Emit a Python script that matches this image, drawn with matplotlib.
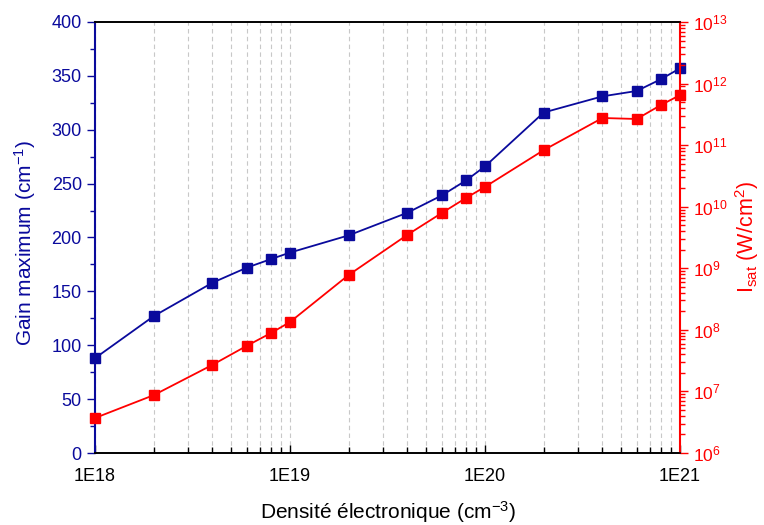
import matplotlib
matplotlib.use("Agg")
import matplotlib.pyplot as plt
from matplotlib.ticker import LogLocator, NullFormatter, FixedLocator, MultipleLocator

plt.rcParams['font.family'] = ['Liberation Sans', 'DejaVu Sans']
plt.rcParams['mathtext.fontset'] = 'custom'
plt.rcParams['mathtext.rm'] = 'Liberation Sans'
plt.rcParams['mathtext.it'] = 'Liberation Sans:italic'

density = [1e18, 2e18, 4e18, 6e18, 8e18, 1e19, 2e19, 4e19, 6e19, 8e19,
           1e20, 2e20, 4e20, 6e20, 8e20, 1e21]
gain = [88, 127, 158, 172, 180, 186, 202, 223, 239, 253,
        266, 316, 331, 336, 347, 357]
isat = [3.7e6, 8.7e6, 2.7e7, 5.5e7, 8.9e7, 1.34e8, 7.8e8, 3.5e9, 7.9e9, 1.39e10,
        2.1e10, 8.3e10, 2.76e11, 2.66e11, 4.5e11, 6.5e11]
xticks = [1e18, 1e19, 1e20, 1e21]
xticklabels = ['1E18', '1E19', '1E20', '1E21']

blue = '#0A0A9C'
red = '#FF0000'

fig = plt.figure(figsize=(7.64, 5.25), dpi=100)
ax = fig.add_axes([95/764, 1-453/525, (680-95)/764, (453-22)/525])
ax2 = ax.twinx()

ax.set_xscale('log')
ax.set_xlim(1e18, 1e21)
ax.set_ylim(0, 400)
ax2.set_yscale('log')
ax2.set_ylim(1e6, 1e13)

ax.xaxis.set_major_locator(FixedLocator(xticks))
ax.set_xticklabels(xticklabels)
ax.xaxis.set_minor_locator(LogLocator(base=10, subs=range(2, 10)))
ax.xaxis.set_minor_formatter(NullFormatter())
ax.grid(True, which='both', axis='x', color='#c8c8c8', linestyle=(0, (4, 3)), linewidth=0.8)
ax.set_axisbelow(True)

ax.plot(density, gain, color=blue, marker='s', markersize=6.5, linewidth=1.3, zorder=3, clip_on=False)
ax2.plot(density, isat, color=red, marker='s', markersize=6.5, linewidth=1.3, zorder=3, clip_on=False)

ax.yaxis.set_major_locator(MultipleLocator(50))
ax.yaxis.set_minor_locator(MultipleLocator(25))
ax2.yaxis.set_major_locator(LogLocator(base=10, numticks=20))
ax2.yaxis.set_minor_locator(LogLocator(base=10, subs=range(2, 10), numticks=100))
ax2.yaxis.set_minor_formatter(NullFormatter())

ax.tick_params(axis='x', which='major', direction='in', length=6, width=1, labelsize=13, colors='black', pad=11)
ax.tick_params(axis='x', which='minor', direction='in', length=4, width=1)
ax.tick_params(axis='y', which='major', direction='out', length=6, width=1, colors=blue, labelsize=13)
ax.tick_params(axis='y', which='minor', direction='out', length=3.5, width=1, colors=blue)
ax2.tick_params(axis='y', which='major', direction='out', length=6, width=1, colors=red, labelsize=12.5)
ax2.tick_params(axis='y', which='minor', direction='out', length=3.5, width=1, colors=red)

for a in (ax, ax2):
    a.spines['top'].set_color('black')
    a.spines['bottom'].set_color('black')
    a.spines['top'].set_linewidth(1.2)
    a.spines['bottom'].set_linewidth(1.2)
ax.spines['left'].set_color(blue)
ax.spines['left'].set_linewidth(1.5)
ax2.spines['left'].set_visible(False)
ax.spines['right'].set_visible(False)
ax2.spines['right'].set_color(red)
ax2.spines['right'].set_linewidth(1.5)

ax.set_xlabel('Densité électronique (cm$^{-3}$)', fontsize=15)
ax.xaxis.set_label_coords(0.5, -0.138)
ax.xaxis.label.set_va('center')
ax.set_ylabel('Gain maximum (cm$^{-1}$)', fontsize=15, color=blue)
ax.yaxis.label.set_va('center')
ax.yaxis.set_label_coords(-0.12, 0.487)
ax2.set_ylabel(r'I$_{\mathrm{sat}}$ (W/cm$^{2}$)', fontsize=15.5, color=red)
ax2.yaxis.label.set_va('center')
ax2.yaxis.set_label_coords(1.114, 0.50)

fig.savefig('out.png', dpi=100)
